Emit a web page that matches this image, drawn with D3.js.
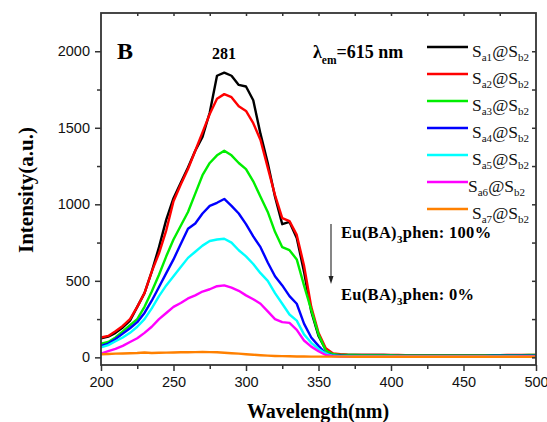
<!DOCTYPE html>
<html>
<head>
<meta charset="utf-8">
<script src="https://cdn.jsdelivr.net/npm/d3@7"></script>
<style>
  html, body { margin: 0; padding: 0; background: #fff; }
  svg { display: block; }
</style>
</head>
<body>
<svg id="chart" width="547" height="422"></svg>
<script>
// Excitation spectra (λem = 615 nm), sampled every 5 nm
const wavelengths = [
  200,205,210,215,220,225,230,235,240,245,250,255,260,265,270,275,280,285,290,295,
  300,305,310,315,320,325,330,335,340,345,350,355,360,365,370,375,380,385,390,395,
  400,405,410,415,420,425,430,435,440,445,450,455,460,465,470,475,480,485,490,495,500
];

const sa1 = [
  125,135,160,195,240,330,420,560,720,900,1040,1140,1240,1350,1440,1600,1840,1860,1840,1780,
  1770,1680,1460,1270,1050,870,885,780,560,300,140,50,22,
  18,16,16,15,15,15,15,14,14,14,14,14,14,13,13,13,13,13,13,13,13,13,13,13,13,14,14,14
];
const sa2 = [
  130,140,170,205,250,330,420,560,680,830,1020,1130,1230,1350,1470,1590,1690,1720,1700,1640,
  1610,1530,1420,1240,1060,910,890,800,600,330,160,60,25,
  20,17,16,16,15,15,15,15,15,14,14,14,14,14,14,14,14,14,14,14,14,14,14,15,15,15,15,15
];
const sa3 = [
  90,100,130,170,210,250,330,430,540,660,770,860,950,1070,1190,1270,1320,1350,1320,1270,
  1230,1150,1050,950,820,720,700,640,470,310,150,45,20,
  16,15,15,14,14,14,14,14,13,13,13,13,13,13,13,13,13,13,13,13,13,14,14,14,14,14,15,15
];
const sa4 = [
  75,90,120,155,190,230,290,370,460,550,640,740,840,875,940,990,1010,1035,990,940,
  870,790,720,620,530,470,400,350,220,130,75,25,12,
  10,9,9,9,9,9,9,9,9,9,9,9,9,9,9,9,9,9,9,9,9,10,10,10,10,10,10,10
];
const sa5 = [
  65,80,105,130,160,200,250,320,400,470,530,590,650,690,730,760,770,775,750,700,
  660,610,550,500,420,350,280,240,150,95,55,25,10,
  8,8,7,7,7,7,7,7,7,7,7,7,7,7,7,7,7,7,7,7,7,8,8,8,8,8,8,8
];
const sa6 = [
  25,40,55,75,100,125,160,200,250,290,330,355,385,405,430,445,465,470,455,435,
  405,380,350,300,250,230,225,180,110,70,40,15,8,
  5,5,5,5,5,5,5,5,5,5,5,5,5,5,5,5,5,5,5,5,5,5,5,5,5,6,6,6
];
const sa7 = [
  20,22,24,25,27,28,32,28,30,31,32,33,33,34,36,34,33,30,27,24,
  20,17,14,11,9,8,7,6,6,5,5,5,5,
  5,5,4,4,4,4,4,4,4,4,4,4,4,4,4,4,4,4,4,4,4,4,4,4,4,4,4,4
];

const seriesValues = [sa1, sa2, sa3, sa4, sa5, sa6, sa7];
const seriesColors = ["#000000", "#ff0000", "#00ee00", "#0000ff", "#00ffff", "#ff00ff", "#ff8000"];
const seriesSubA = ["a1", "a2", "a3", "a4", "a5", "a6", "a7"];
const seriesSubB = ["b2", "b2", "b2", "b2", "b2", "b2", "b2"];

const xTicks = [200, 250, 300, 350, 400, 450, 500];
const xMinorTicks = [225, 275, 325, 375, 425, 475];
const yTicks = [0, 500, 1000, 1500, 2000];
const yMinorTicks = [250, 750, 1250, 1750];
const yRightTicks = [0, 250, 500, 750, 1000, 1250, 1500, 1750, 2000];
const xTopTicks = [225, 250, 275, 300, 325, 350, 375, 400, 425, 450, 475];

const svg = d3.select("#chart");
const L = 101, R = 536, T = 13, B = 365;

const x = d3.scaleLinear().domain([200, 500]).range([L, R]);
const y = d3.scaleLinear().domain([-50, 2250]).range([B, T]);

const axisColor = "#333";
const sans = "'Liberation Sans', Arial, sans-serif";
const serif = "'Liberation Serif', 'Times New Roman', serif";

// spectra
const line = d3.line()
  .x((d, i) => x(wavelengths[i]))
  .y(d => y(d))
  .curve(d3.curveLinear);

const plot = svg.append("g");
seriesValues.forEach((vals, k) => {
  plot.append("path")
    .datum(vals)
    .attr("d", line)
    .attr("fill", "none")
    .attr("stroke", seriesColors[k])
    .attr("stroke-width", 2.4)
    .attr("stroke-linejoin", "round");
});

// axes
function styleAxis(g) {
  g.select(".domain").remove();
  g.selectAll(".tick line").attr("stroke", axisColor).attr("stroke-width", 1.5);
  g.selectAll(".tick text").attr("fill", "#111").attr("font-family", sans).attr("font-size", "14.5px");
}

svg.append("g").attr("transform", `translate(0,${B})`)
  .call(d3.axisBottom(x).tickValues(xTicks).tickSize(6).tickPadding(6).tickFormat(d3.format("d")))
  .call(styleAxis);
svg.append("g").attr("transform", `translate(0,${B})`)
  .call(d3.axisBottom(x).tickValues(xMinorTicks).tickSize(4).tickFormat(""))
  .call(styleAxis);

svg.append("g").attr("transform", `translate(${L},0)`)
  .call(d3.axisLeft(y).tickValues(yTicks).tickSize(6).tickPadding(5).tickFormat(d3.format("d")))
  .call(styleAxis);
svg.append("g").attr("transform", `translate(${L},0)`)
  .call(d3.axisLeft(y).tickValues(yMinorTicks).tickSize(4).tickFormat(""))
  .call(styleAxis);

svg.append("g").attr("transform", `translate(0,${T})`)
  .call(d3.axisTop(x).tickValues(xTopTicks).tickSize(-3).tickFormat(""))
  .call(styleAxis);
svg.append("g").attr("transform", `translate(${R},0)`)
  .call(d3.axisRight(y).tickValues(yRightTicks).tickSize(-4).tickFormat(""))
  .call(styleAxis);

// frame
svg.append("rect")
  .attr("x", L).attr("y", T).attr("width", R - L).attr("height", B - T)
  .attr("fill", "none").attr("stroke", axisColor).attr("stroke-width", 1.8);

// axis titles
svg.append("text")
  .attr("x", 318).attr("y", 418)
  .attr("text-anchor", "middle")
  .attr("font-family", serif).attr("font-weight", "bold").attr("font-size", "20px")
  .text("Wavelength(nm)");
svg.append("text")
  .attr("transform", "translate(33,190) rotate(-90)")
  .attr("text-anchor", "middle")
  .attr("font-family", serif).attr("font-weight", "bold").attr("font-size", "21px")
  .text("Intensity(a.u.)");

// panel letter and annotations
svg.append("text")
  .attr("x", 117).attr("y", 59)
  .attr("font-family", serif).attr("font-weight", "bold").attr("font-size", "24px")
  .text("B");
svg.append("text")
  .attr("x", 224).attr("y", 59).attr("text-anchor", "middle")
  .attr("font-family", serif).attr("font-weight", "bold").attr("font-size", "16px")
  .text("281");

const lam = svg.append("text")
  .attr("x", 313).attr("y", 58)
  .attr("font-family", serif).attr("font-weight", "bold").attr("font-size", "18px");
lam.append("tspan").text("λ");
lam.append("tspan").attr("dy", 6).attr("font-size", "11.5px").text("em");
lam.append("tspan").attr("dy", -6).text("=615 nm");

function euLabel(yPos, pct) {
  const t = svg.append("text")
    .attr("x", 341).attr("y", yPos)
    .attr("font-family", serif).attr("font-weight", "bold").attr("font-size", "16.5px")
    .attr("letter-spacing", "0.3px");
  t.append("tspan").text("Eu(BA)");
  t.append("tspan").attr("dy", 5).attr("font-size", "11px").text("3");
  t.append("tspan").attr("dy", -5).text("phen: " + pct);
}
euLabel(238, "100%");
euLabel(300, "0%");

// downward arrow
svg.append("line")
  .attr("x1", 331).attr("x2", 331).attr("y1", 224).attr("y2", 280)
  .attr("stroke", "#222").attr("stroke-width", 1.1);
svg.append("path")
  .attr("d", "M328.5,276 L333.5,276 L331,284 Z")
  .attr("fill", "#222");

// legend
const legend = svg.append("g");
seriesColors.forEach((c, i) => {
  const ly = 47 + i * 27;
  legend.append("line")
    .attr("x1", 427).attr("x2", 468).attr("y1", ly).attr("y2", ly)
    .attr("stroke", c).attr("stroke-width", 2.6);
  const t = legend.append("text")
    .attr("x", i === 5 ? 468 : 472).attr("y", ly + 9.5)
    .attr("font-family", serif).attr("font-size", "17.5px").attr("fill", "#111");
  t.append("tspan").text("S");
  t.append("tspan").attr("dy", 4).attr("font-size", "11px").text(seriesSubA[i]);
  t.append("tspan").attr("dy", -4).text("@S");
  t.append("tspan").attr("dy", 4).attr("font-size", "11px").text(seriesSubB[i]);
});
</script>
</body>
</html>
